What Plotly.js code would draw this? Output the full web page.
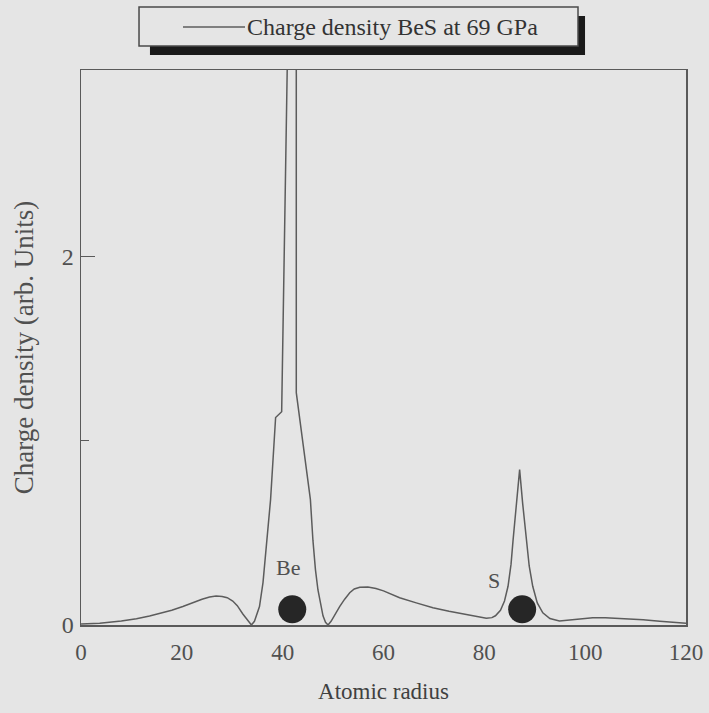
<!DOCTYPE html>
<html>
<head>
<meta charset="utf-8">
<script src="https://cdn.plot.ly/plotly-3.0.1.min.js"></script>
<style>
  html, body { margin: 0; padding: 0; background: #e5e5e5; }
  #chart { width: 709px; height: 713px; }
</style>
</head>
<body>
<div id="chart"></div>
<script>
// ---- data ----
const seriesName = 'Charge density BeS at 69 GPa';
const radius = [0, 3.7, 8, 11, 13.6, 16, 18, 20.2, 22, 24, 25.5, 26.8, 28, 29, 30.1, 31, 32.1, 33, 33.8, 34.4, 34.8, 35.4, 36.1, 36.9, 37.6, 38.6, 39.8, 40.9, 41.0, 42.7, 42.7, 44.1, 45.5, 46.0, 46.5, 47.0, 47.5, 48.0, 48.5, 49.0, 49.6, 50.2, 51.3, 52.3, 53.3, 54.2, 55.3, 56.9, 58.5, 60, 61.5, 63.2, 66.5, 69.8, 73, 76.4, 78.5, 80.4, 81.5, 82.2, 83.2, 84, 84.7, 85.3, 85.7, 86.4, 87.0, 87.6, 88.3, 88.9, 89.6, 90.5, 91.6, 93, 94.9, 97, 98.9, 101.5, 104, 108.2, 111.5, 114.8, 117.5, 120];
const density = [0.005, 0.01, 0.022, 0.034, 0.049, 0.065, 0.08, 0.10, 0.12, 0.14, 0.152, 0.157, 0.155, 0.148, 0.13, 0.105, 0.06, 0.025, 0.0, 0.02, 0.05, 0.10, 0.23, 0.46, 0.68, 1.125, 1.157, 3.01, 3.3, 3.3, 1.26, 0.97, 0.68, 0.46, 0.30, 0.19, 0.11, 0.05, 0.015, 0.0, 0.02, 0.05, 0.10, 0.14, 0.175, 0.195, 0.205, 0.206, 0.198, 0.185, 0.168, 0.148, 0.12, 0.094, 0.075, 0.058, 0.045, 0.036, 0.04, 0.05, 0.08, 0.13, 0.21, 0.33, 0.46, 0.66, 0.843, 0.66, 0.46, 0.32, 0.21, 0.12, 0.066, 0.035, 0.022, 0.027, 0.032, 0.039, 0.039, 0.034, 0.028, 0.02, 0.014, 0.01];

const atomNames = ['Be', 'S'];
const atomX = [41.9, 87.5];
const atomY = [0.085, 0.085];
const atomLabelX = [41.0, 82.0];
const atomLabelY = [0.31, 0.24];

const yTickVals = [0, 2];
const yTickText = ['0', '2'];
const yMinorVals = [1];
const xTickVals = [0, 20, 40, 60, 80, 100, 120];

// ---- figure ----
const serif = 'Liberation Serif, Times New Roman, serif';
const bg = '#e5e5e5';

const traces = [
  {
    x: radius, y: density, type: 'scatter', mode: 'lines', name: seriesName,
    line: {color: '#5c5c5c', width: 1.5}, showlegend: false, hoverinfo: 'x+y'
  },
  {
    x: atomX, y: atomY, type: 'scatter', mode: 'markers', name: 'atoms',
    marker: {symbol: 'circle', size: 28, color: '#262626', line: {width: 0}},
    showlegend: false, cliponaxis: false
  }
];

const annotations = atomNames.map((n, i) => ({
  x: atomLabelX[i], y: atomLabelY[i], xref: 'x', yref: 'y', text: n,
  showarrow: false, font: {family: serif, size: 22, color: '#505050'}
}));

annotations.push({
  x: 0.2711, y: 1.0775, xref: 'paper', yref: 'paper', xanchor: 'left', yanchor: 'middle',
  text: seriesName, showarrow: false, font: {family: serif, size: 24, color: '#333333'}
});

const shapes = [
  // legend shadow
  {type: 'rect', xref: 'paper', yref: 'paper', x0: 0.1140, x1: 0.8331, y0: 1.027, y1: 1.0973,
   fillcolor: '#1a1a1a', line: {width: 0}, layer: 'above'},
  // legend box
  {type: 'rect', xref: 'paper', yref: 'paper', x0: 0.0959, x1: 0.8215, y0: 1.0432, y1: 1.1135,
   fillcolor: bg, line: {color: '#4a4a4a', width: 1.5}, layer: 'above'},
  // legend line sample
  {type: 'line', xref: 'paper', yref: 'paper', x0: 0.1686, x1: 0.2711, y0: 1.0775, y1: 1.0775,
   line: {color: '#5c5c5c', width: 1.5}, layer: 'above'}
];

const layout = {
  width: 709, height: 713,
  paper_bgcolor: bg, plot_bgcolor: bg,
  margin: {l: 81, r: 23, t: 70, b: 88},
  showlegend: false,
  font: {family: serif, color: '#505050'},
  xaxis: {
    range: [0, 120], tickvals: xTickVals, ticks: '', showgrid: false, zeroline: false,
    showline: true, mirror: true, linecolor: '#5a5a5a', linewidth: 1.5,
    ticklabelstandoff: 6,
    tickfont: {family: serif, size: 23, color: '#505050'},
    title: {text: 'Atomic radius', font: {family: serif, size: 23, color: '#404040'}, standoff: 19}
  },
  yaxis: {
    range: [0, 3.01], tickmode: 'array', tickvals: yTickVals, ticktext: yTickText,
    ticks: 'inside', ticklen: 14, tickcolor: '#5a5a5a', tickwidth: 1.2,
    minor: {tickmode: 'array', tickvals: yMinorVals, ticks: 'inside', ticklen: 8, tickcolor: '#5a5a5a', tickwidth: 1.2, showgrid: false},
    showgrid: false, zeroline: false,
    showline: true, mirror: true, linecolor: '#5a5a5a', linewidth: 1.5,
    ticklabelstandoff: 1,
    tickfont: {family: serif, size: 24, color: '#505050'},
    title: {text: 'Charge density (arb. Units)', font: {family: serif, size: 27, color: '#505050'}, standoff: 20}
  },
  annotations: annotations,
  shapes: shapes
};

Plotly.newPlot('chart', traces, layout, {displayModeBar: false, staticPlot: true});
</script>
</body>
</html>
